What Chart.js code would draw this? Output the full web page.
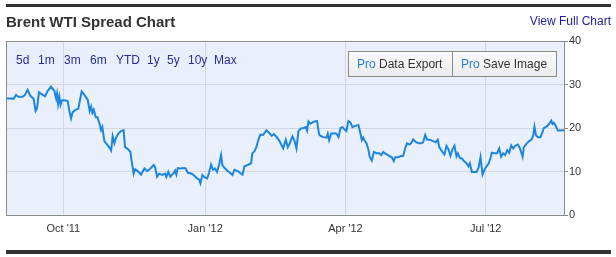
<!DOCTYPE html>
<html>
<head>
<meta charset="utf-8">
<script src="https://cdn.jsdelivr.net/npm/chart.js"></script>
<style>
  body { margin: 0; background: #fff; font-family: "Liberation Sans", Arial, sans-serif; }
  #wrap { position: relative; width: 616px; height: 257px; overflow: hidden; }
  #chart { position: absolute; left: 0; top: 0; }
  .bar { position: absolute; left: 6px; width: 605px; background: #333; }
  #title { position: absolute; left: 6px; top: 13px; font-size: 15px; font-weight: bold; color: #333; }
  #full { position: absolute; right: 5px; top: 14px; font-size: 12px; color: #22229c; }
  .rng { position: absolute; top: 53px; font-size: 12px; color: #2b2b9c; }
  #btns { position: absolute; left: 348px; top: 51px; width: 207px; height: 24px; border: 1px solid #8a8a8a;
          background: linear-gradient(#fbfbfb, #ececec); font-size: 12px; color: #333; }
  #btns span.b { position: absolute; top: 5px; }
  #btns .pro { color: #2a80d0; }
  #div { position: absolute; left: 103px; top: 0; width: 1px; height: 24px; background: #8a8a8a; }
</style>
</head>
<body>
<div id="wrap">
  <canvas id="chart" width="616" height="257"></canvas>
  <div class="bar" style="top:4px;height:3px"></div>
  <div id="title">Brent WTI Spread Chart</div>
  <div id="full">View Full Chart</div>
  <span class="rng" style="left:16px">5d</span>
  <span class="rng" style="left:38px">1m</span>
  <span class="rng" style="left:64px">3m</span>
  <span class="rng" style="left:90px">6m</span>
  <span class="rng" style="left:116px">YTD</span>
  <span class="rng" style="left:147px">1y</span>
  <span class="rng" style="left:167px">5y</span>
  <span class="rng" style="left:188px">10y</span>
  <span class="rng" style="left:214px">Max</span>
  <div id="btns">
    <span class="b" style="left:8px"><span class="pro">Pro</span> Data Export</span>
    <div id="div"></div>
    <span class="b" style="left:112px"><span class="pro">Pro</span> Save Image</span>
  </div>
  <div class="bar" style="top:250px;height:4px"></div>
</div>
<script>
// days since 1 Oct 2011
var days = [-37.2,-33.9,-32.3,-30.7,-29.2,-26.4,-24.9,-23.2,-21.4,-19.3,-18.0,-17.1,-15.8,-14.1,-11.9,-10.2,-8.0,-5.8,-4.7,-4.1,-3.4,-2.6,-1.8,-0.8,
  0.6,2.8,3.9,5.0,6.0,8.0,9.7,10.6,11.9,13.6,15.8,17.1,18.0,18.8,19.7,21.0,22.1,23.6,24.5,25.3,26.6,28.4,29.9,31.0,32.0,33.1,34.2,35.7,37.4,39.1,40.0,
  41.7,43.5,44.3,45.6,46.5,48.2,50.4,52.6,54.3,56.0,58.6,59.5,60.8,62.1,64.2,66.0,66.8,68.1,69.4,71.2,72.5,73.3,74.2,75.9,78.1,79.4,80.8,83.3,85.0,
  86.8,88.1,88.9,90.2,91.5,93.3,94.5,95.8,97.1,98.4,99.7,101.0,102.3,103.2,104.9,106.6,108.4,109.7,111.0,113.1,114.9,116.2,117.5,119.6,121.8,122.6,
  123.9,125.2,126.5,127.8,129.6,131.7,133.5,135.2,136.5,138.2,140.0,142.6,144.3,145.6,146.9,148.6,149.9,151.2,152.5,154.2,155.9,157.2,158.1,159.0,
  160.3,161.6,162.9,164.6,165.9,167.2,168.9,170.7,171.5,172.4,173.7,175.4,177.2,178.5,179.8,181.1,182.3,183.6,184.9,186.2,187.5,189.3,191.4,192.7,
  193.6,194.5,195.3,196.6,197.9,198.8,200.1,201.4,203.1,204.9,206.2,207.5,208.8,210.4,211.7,213.0,214.3,215.3,216.9,218.7,220.4,221.7,223.0,224.3,
  225.6,226.9,228.6,230.4,232.1,233.4,234.7,236.0,237.7,239.9,241.6,242.9,243.8,245.5,247.2,248.5,249.8,251.1,252.4,253.7,255.0,255.9,257.2,258.5,
  259.8,261.5,262.8,263.7,265.0,266.7,268.0,269.3,270.6,271.9,273.2,274.5,275.8,277.1,277.9,279.2,281.4,282.7,284.0,285.3,286.6,287.9,289.2,290.5,
  291.8,293.1,294.8,296.1,297.9,298.7,300.5,302.2,303.9,304.8,305.6,306.5,307.8,309.5,310.4,311.7,313.4,314.7,316.5,317.3,318.2,319.5,320.8,322.5,
  324.3,325.4];
var spread = [26.8,26.8,26.7,27.6,27.2,27.2,27.6,28.8,27.4,26.7,23.9,24.5,28.2,27.8,27.3,28.5,29.5,28.5,26.8,27.9,25.5,27.2,25.3,26.4,
  26.4,26.2,23.9,22.2,23.6,24.2,24.4,26.1,28.4,27.6,26.5,23.9,24.9,23.5,24.2,22.5,22.5,20.8,19.5,20.2,17.0,16.2,15.5,14.8,18.1,16.5,17.8,18.7,19.3,19.5,15.6,
  15.2,14.5,12.4,9.5,10.5,10.1,9.3,10.7,10.1,10.5,11.5,11.0,8.8,9.5,9.2,9.5,8.7,9.9,8.8,9.5,10.2,9.3,10.8,10.7,10.8,10.7,9.7,9.5,9.0,
  8.4,8.1,7.3,9.2,8.7,8.4,9.7,11.6,10.4,10.7,9.9,11.5,13.8,11.4,10.7,10.1,9.6,9.2,10.4,10.1,9.6,9.3,11.2,11.5,11.9,14.2,
  14.6,15.6,17.3,18.5,18.4,19.5,18.9,18.2,18.6,18.0,17.1,15.3,17.3,15.6,16.5,18.1,17.1,15.3,19.3,19.9,20.0,20.2,19.4,21.5,
  21.0,21.3,21.5,21.6,18.5,18.1,17.9,17.8,18.7,17.2,18.7,18.8,18.7,17.9,20.0,20.2,19.7,19.3,21.6,21.3,20.2,20.5,20.7,18.8,
  17.2,17.8,17.2,16.5,15.0,13.3,12.5,14.5,14.2,14.2,13.8,14.5,14.1,13.8,13.5,13.3,12.4,13.3,13.3,13.5,13.6,15.3,16.5,16.2,
  16.5,17.4,16.8,16.5,16.5,16.7,18.4,17.3,17.3,17.0,16.7,17.3,15.6,14.7,13.9,15.9,15.1,13.6,15.1,15.9,13.5,14.2,13.1,13.0,
  12.4,11.9,11.2,11.9,9.9,9.9,9.9,10.8,13.3,9.3,10.4,11.2,11.8,13.1,14.3,14.2,14.2,15.3,13.4,14.2,13.8,14.9,14.3,16.0,
  15.3,15.9,16.2,15.4,13.4,15.6,16.4,17.0,17.4,18.4,20.3,18.4,17.9,17.9,18.7,20.0,20.3,20.8,21.7,20.9,21.2,20.4,19.4,19.4,
  19.5,19.5];

var tickDays = [0, 92, 183, 274];
var tickLabels = ["Oct '11", "Jan '12", "Apr '12", "Jul '12"];
var yMin = 0, yMax = 40, yStep = 10;

var plotFrame = {
  id: 'plotFrame',
  beforeDraw: function(chart) {
    var a = chart.chartArea, ctx = chart.ctx;
    ctx.save();
    ctx.fillStyle = '#e9f0fb';
    ctx.fillRect(a.left, a.top, a.right - a.left, a.bottom - a.top);
    ctx.restore();
  },
  afterDraw: function(chart) {
    var a = chart.chartArea, ctx = chart.ctx;
    ctx.save();
    ctx.strokeStyle = '#8c8c8c';
    ctx.lineWidth = 1;
    ctx.strokeRect(a.left + 0.5, a.top + 0.5, a.right - a.left - 1, a.bottom - a.top);
    ctx.restore();
  }
};

var points = days.map(function(d, i) { return { x: d, y: spread[i] }; });
var font = { family: '"Liberation Sans", Arial, sans-serif', size: 11 };

var ctx = document.getElementById('chart').getContext('2d');
var chart = new Chart(ctx, {
  type: 'line',
  data: {
    datasets: [{
      data: points,
      borderColor: '#1c86df',
      borderWidth: 2,
      pointRadius: 0,
      tension: 0,
      fill: false
    }]
  },
  options: {
    responsive: false,
    animation: false,
    devicePixelRatio: 1,
    layout: { padding: { left: 6, top: 41, right: 0, bottom: 0 } },
    plugins: { legend: { display: false }, tooltip: { enabled: false } },
    scales: {
      x: {
        type: 'linear',
        min: -37.2,
        max: 325.4,
        afterBuildTicks: function(s) { s.ticks = tickDays.map(function(v) { return { value: v }; }); },
        afterFit: function(s) { s.height = 42; },
        ticks: {
          autoSkip: false, maxRotation: 0, color: '#333', font: font, padding: 7,
          callback: function(v, i) { return tickLabels[i]; }
        },
        grid: { color: '#d3d6dc', drawTicks: false },
        border: { display: false }
      },
      y: {
        position: 'right',
        min: yMin,
        max: yMax,
        afterFit: function(s) { s.width = 51; },
        ticks: { stepSize: yStep, color: '#333', font: font, padding: 1 },
        grid: { color: '#d3d6dc', tickLength: 3, tickColor: '#888' },
        border: { display: false }
      }
    }
  },
  plugins: [plotFrame]
});
</script>
</body>
</html>
